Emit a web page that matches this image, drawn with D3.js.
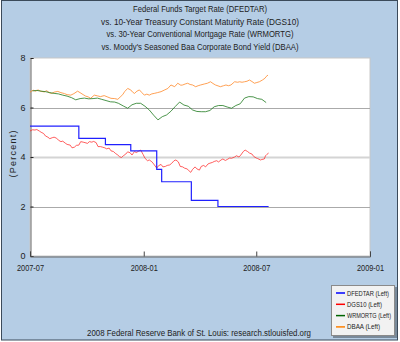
<!DOCTYPE html>
<html><head><meta charset="utf-8">
<script src="https://cdn.jsdelivr.net/npm/d3@7"></script>
<style>body{margin:0;background:#fff}svg{display:block}text{font-family:"Liberation Sans",Arial,sans-serif;fill:#222}</style>
</head><body>
<svg id="c" width="400" height="342"></svg>
<script>
const titleLines = ["Federal Funds Target Rate (DFEDTAR)","vs.  10-Year Treasury Constant Maturity Rate (DGS10)","vs.  30-Year Conventional Mortgage Rate (WRMORTG)","vs.  Moody's Seasoned Baa Corporate Bond Yield (DBAA)"];
const titleWidths = [134,198,187,197];
const footer = "2008 Federal Reserve Bank of St. Louis: research.stlouisfed.org";
const yTicks = [0,2,4,6,8];
const xTickLabels = ["2007-07","2008-01","2008-07","2009-01"];
const seriesNames = ["DFEDTAR (Left)","DGS10 (Left)","WRMORTG (Left)","DBAA (Left)"];
const legendWidths = [42,35,44,33];
const seriesColors = ["#0000ff","#ff0000","#006400","#ff8000"];

const dfedtar = [["2007-07-01",5.25],["2007-09-18",4.75],["2007-10-31",4.50],["2007-12-11",4.25],["2008-01-22",3.50],["2008-01-30",3.00],["2008-03-18",2.25],["2008-04-30",2.00],["2008-07-21",2.00]];

const dgs10 = [["2007-07-01",5.05],["2007-07-05",5.10],["2007-07-09",5.09],["2007-07-12",5.11],["2007-07-16",5.05],["2007-07-19",5.00],["2007-07-23",4.95],["2007-07-26",4.85],["2007-07-30",4.80],["2007-08-02",4.74],["2007-08-06",4.78],["2007-08-09",4.80],["2007-08-13",4.76],["2007-08-16",4.68],["2007-08-20",4.62],["2007-08-23",4.64],["2007-08-27",4.56],["2007-08-30",4.51],["2007-09-04",4.48],["2007-09-07",4.37],["2007-09-11",4.40],["2007-09-14",4.47],["2007-09-18",4.48],["2007-09-21",4.62],["2007-09-25",4.60],["2007-09-28",4.58],["2007-10-02",4.55],["2007-10-05",4.62],["2007-10-09",4.60],["2007-10-12",4.63],["2007-10-16",4.58],["2007-10-19",4.42],["2007-10-23",4.42],["2007-10-26",4.40],["2007-10-30",4.37],["2007-11-02",4.33],["2007-11-06",4.36],["2007-11-09",4.25],["2007-11-13",4.22],["2007-11-16",4.15],["2007-11-20",4.08],["2007-11-23",4.01],["2007-11-26",3.98],["2007-11-29",4.05],["2007-12-03",4.12],["2007-12-06",4.21],["2007-12-10",4.17],["2007-12-13",4.08],["2007-12-17",4.22],["2007-12-20",4.18],["2007-12-24",4.24],["2007-12-27",4.28],["2007-12-31",4.10],["2008-01-03",3.95],["2008-01-07",3.85],["2008-01-10",3.88],["2008-01-14",3.81],["2008-01-17",3.72],["2008-01-22",3.55],["2008-01-25",3.65],["2008-01-29",3.70],["2008-02-01",3.60],["2008-02-05",3.62],["2008-02-08",3.66],["2008-02-12",3.68],["2008-02-15",3.74],["2008-02-19",3.85],["2008-02-22",3.88],["2008-02-26",3.80],["2008-02-29",3.62],["2008-03-04",3.60],["2008-03-07",3.55],["2008-03-11",3.52],["2008-03-14",3.45],["2008-03-17",3.38],["2008-03-20",3.50],["2008-03-24",3.60],["2008-03-27",3.52],["2008-03-31",3.47],["2008-04-03",3.62],["2008-04-07",3.66],["2008-04-10",3.60],["2008-04-14",3.72],["2008-04-17",3.75],["2008-04-21",3.78],["2008-04-24",3.82],["2008-04-28",3.85],["2008-05-01",3.80],["2008-05-05",3.88],["2008-05-08",3.92],["2008-05-12",3.86],["2008-05-15",3.90],["2008-05-19",3.96],["2008-05-22",3.95],["2008-05-27",4.00],["2008-05-30",4.05],["2008-06-03",4.00],["2008-06-06",4.08],["2008-06-10",4.22],["2008-06-13",4.28],["2008-06-17",4.22],["2008-06-20",4.16],["2008-06-24",4.12],["2008-06-27",4.02],["2008-07-01",3.96],["2008-07-03",3.94],["2008-07-08",3.88],["2008-07-10",3.90],["2008-07-14",3.92],["2008-07-16",4.05],["2008-07-18",4.10],["2008-07-21",4.16]];

const wrmortg = [["2007-07-05",6.67],["2007-07-12",6.69],["2007-07-19",6.66],["2007-07-26",6.64],["2007-08-02",6.60],["2007-08-09",6.57],["2007-08-16",6.55],["2007-08-23",6.50],["2007-08-30",6.46],["2007-09-06",6.40],["2007-09-13",6.31],["2007-09-20",6.36],["2007-09-27",6.38],["2007-10-04",6.35],["2007-10-11",6.36],["2007-10-18",6.38],["2007-10-25",6.33],["2007-11-01",6.28],["2007-11-08",6.23],["2007-11-15",6.22],["2007-11-21",6.17],["2007-11-29",6.06],["2007-12-06",5.97],["2007-12-13",6.11],["2007-12-20",6.17],["2007-12-27",6.17],["2008-01-03",6.05],["2008-01-10",5.90],["2008-01-17",5.69],["2008-01-24",5.50],["2008-01-31",5.63],["2008-02-07",5.70],["2008-02-14",5.85],["2008-02-21",6.04],["2008-02-28",6.22],["2008-03-06",6.10],["2008-03-13",6.05],["2008-03-20",5.90],["2008-03-27",5.84],["2008-04-03",5.83],["2008-04-10",5.83],["2008-04-17",5.88],["2008-04-24",6.03],["2008-05-01",6.08],["2008-05-08",6.08],["2008-05-15",6.02],["2008-05-22",5.97],["2008-05-29",6.08],["2008-06-05",6.15],["2008-06-12",6.38],["2008-06-19",6.44],["2008-06-26",6.43],["2008-07-03",6.36],["2008-07-10",6.33],["2008-07-17",6.20]];

const dbaa = [["2007-07-01",6.62],["2007-07-06",6.70],["2007-07-10",6.66],["2007-07-14",6.71],["2007-07-18",6.66],["2007-07-24",6.63],["2007-07-28",6.68],["2007-08-01",6.60],["2007-08-05",6.57],["2007-08-09",6.62],["2007-08-15",6.65],["2007-08-20",6.60],["2007-08-26",6.56],["2007-08-30",6.52],["2007-09-05",6.50],["2007-09-10",6.56],["2007-09-16",6.66],["2007-09-20",6.60],["2007-09-25",6.52],["2007-09-29",6.46],["2007-10-03",6.43],["2007-10-07",6.37],["2007-10-13",6.50],["2007-10-18",6.47],["2007-10-23",6.44],["2007-10-29",6.48],["2007-11-04",6.42],["2007-11-09",6.37],["2007-11-15",6.36],["2007-11-20",6.33],["2007-11-25",6.45],["2007-11-28",6.52],["2007-12-01",6.64],["2007-12-06",6.77],["2007-12-11",6.71],["2007-12-14",6.62],["2007-12-17",6.57],["2007-12-21",6.66],["2007-12-25",6.71],["2007-12-29",6.60],["2008-01-02",6.50],["2008-01-06",6.54],["2008-01-10",6.50],["2008-01-14",6.55],["2008-01-18",6.57],["2008-01-23",6.60],["2008-01-29",6.64],["2008-02-03",6.70],["2008-02-09",6.77],["2008-02-14",6.91],["2008-02-20",6.84],["2008-02-25",6.98],["2008-03-01",6.90],["2008-03-04",6.91],["2008-03-08",6.95],["2008-03-12",6.98],["2008-03-16",6.93],["2008-03-20",6.91],["2008-03-25",6.84],["2008-03-29",6.88],["2008-04-02",6.91],["2008-04-08",6.95],["2008-04-13",6.98],["2008-04-18",7.04],["2008-04-22",6.97],["2008-04-26",6.91],["2008-05-04",6.84],["2008-05-09",6.88],["2008-05-13",6.91],["2008-05-17",6.88],["2008-05-21",6.91],["2008-05-27",7.04],["2008-06-01",7.02],["2008-06-04",7.04],["2008-06-08",7.02],["2008-06-12",7.04],["2008-06-16",7.06],["2008-06-20",7.11],["2008-06-24",7.05],["2008-06-28",6.98],["2008-07-02",7.01],["2008-07-06",7.04],["2008-07-11",7.11],["2008-07-15",7.18],["2008-07-17",7.25],["2008-07-20",7.31]];

const parse = d3.timeParse("%Y-%m-%d");
const svg = d3.select("#c");
const L = 30, R = 370, T = 58, B = 256;

// background
svg.append("rect").attr("x",1.5).attr("y",0.5).attr("width",396).attr("height",339.5)
  .attr("fill","#b5cde5").attr("stroke","#3b4a5a").attr("stroke-width",1);

// titles
titleLines.forEach((t,i)=>{
  svg.append("text").attr("x",200).attr("y",12+i*12.6).attr("text-anchor","middle")
    .attr("font-size","9.5px").attr("textLength",titleWidths[i]).attr("lengthAdjust","spacingAndGlyphs").text(t);
});

const x = d3.scaleTime().domain([parse("2007-07-01"), parse("2009-01-01")]).range([L,R]);
const y = d3.scaleLinear().domain([0,8]).range([B,T]);

// plot area
svg.append("rect").attr("x",L).attr("y",T).attr("width",R-L).attr("height",B-T)
  .attr("fill","#fff").attr("stroke","#c8c8c8");

// gridlines
yTicks.filter(v=>v>0 && v<8).forEach(v=>{
  svg.append("line").attr("x1",L).attr("x2",R).attr("y1",Math.round(y(v))+0.5).attr("y2",Math.round(y(v))+0.5)
    .attr("stroke", v===4 ? "#d4d4d4" : "#aaaaaa").attr("stroke-width", v===4 ? 2 : 1);
});

// axes
const yAxis = d3.axisLeft(y).tickValues(yTicks).tickSize(-3).tickPadding(5).tickFormat(d3.format("d"));
const gy = svg.append("g").attr("transform",`translate(${L+0.5},0)`).call(yAxis);
gy.select(".domain").attr("stroke","#666");
gy.selectAll(".tick line").attr("stroke","#222");
gy.selectAll("text").attr("font-size","9px").attr("fill","#222").attr("font-family","Liberation Sans, Arial");

const xTickDates = xTickLabels.map(s=>parse(s+"-01"));
const xAxis = d3.axisBottom(x).tickValues(xTickDates).tickSize(-5).tickPadding(8).tickFormat(d3.timeFormat("%Y-%m"));
const gx = svg.append("g").attr("transform",`translate(0,${B+0.5})`).call(xAxis);
gx.select(".domain").attr("stroke","#666");
gx.selectAll(".tick line").attr("stroke","#444");
gx.selectAll("text").attr("font-size","8.5px").attr("fill","#222").attr("font-family","Liberation Sans, Arial")
  .attr("textLength",27).attr("lengthAdjust","spacingAndGlyphs");

// y label
svg.append("text").attr("transform","translate(16,154) rotate(-90)").attr("text-anchor","middle")
  .attr("font-size","9px").attr("textLength",47).attr("lengthAdjust","spacing").text("(Percent)");

// lines
const line = d3.line().x(d=>x(parse(d[0]))).y(d=>y(d[1]));
const step = d3.line().x(d=>x(parse(d[0]))).y(d=>y(d[1])).curve(d3.curveStepAfter);
const g = svg.append("g");
g.append("path").datum(dbaa).attr("d",line).attr("fill","none").attr("stroke","#ff8a2a").attr("stroke-width",1).attr("stroke-opacity",0.8);
g.append("path").datum(wrmortg).attr("d",line).attr("fill","none").attr("stroke","#1f7a1f").attr("stroke-width",1).attr("stroke-opacity",0.8);
g.append("path").datum(dgs10).attr("d",line).attr("fill","none").attr("stroke","#ff2a2a").attr("stroke-width",1).attr("stroke-opacity",0.75);
g.append("path").datum(dfedtar).attr("d",step).attr("fill","none").attr("stroke","#2020ff").attr("stroke-width",1.2);

// legend
const lg = svg.append("g");
lg.append("rect").attr("x",333).attr("y",287).attr("width",64).attr("height",51).attr("fill","#7a8a9a");
lg.append("rect").attr("x",331.5).attr("y",285.5).attr("width",63).attr("height",50).attr("fill","#f2f2f2").attr("stroke","#8a8a8a");
seriesNames.forEach((n,i)=>{
  const yy = 293 + i*11.3;
  lg.append("line").attr("x1",336).attr("x2",345).attr("y1",yy).attr("y2",yy).attr("stroke",seriesColors[i]).attr("stroke-width",1.5);
  lg.append("text").attr("x",347).attr("y",yy+2.5).attr("font-size","6.5px")
    .attr("textLength",legendWidths[i]).attr("lengthAdjust","spacingAndGlyphs").text(n);
});

// footer
svg.append("text").attr("x",199).attr("y",335.5).attr("text-anchor","middle").attr("font-size","8.5px")
  .attr("textLength",224).attr("lengthAdjust","spacingAndGlyphs").text(footer);
</script>
</body></html>
